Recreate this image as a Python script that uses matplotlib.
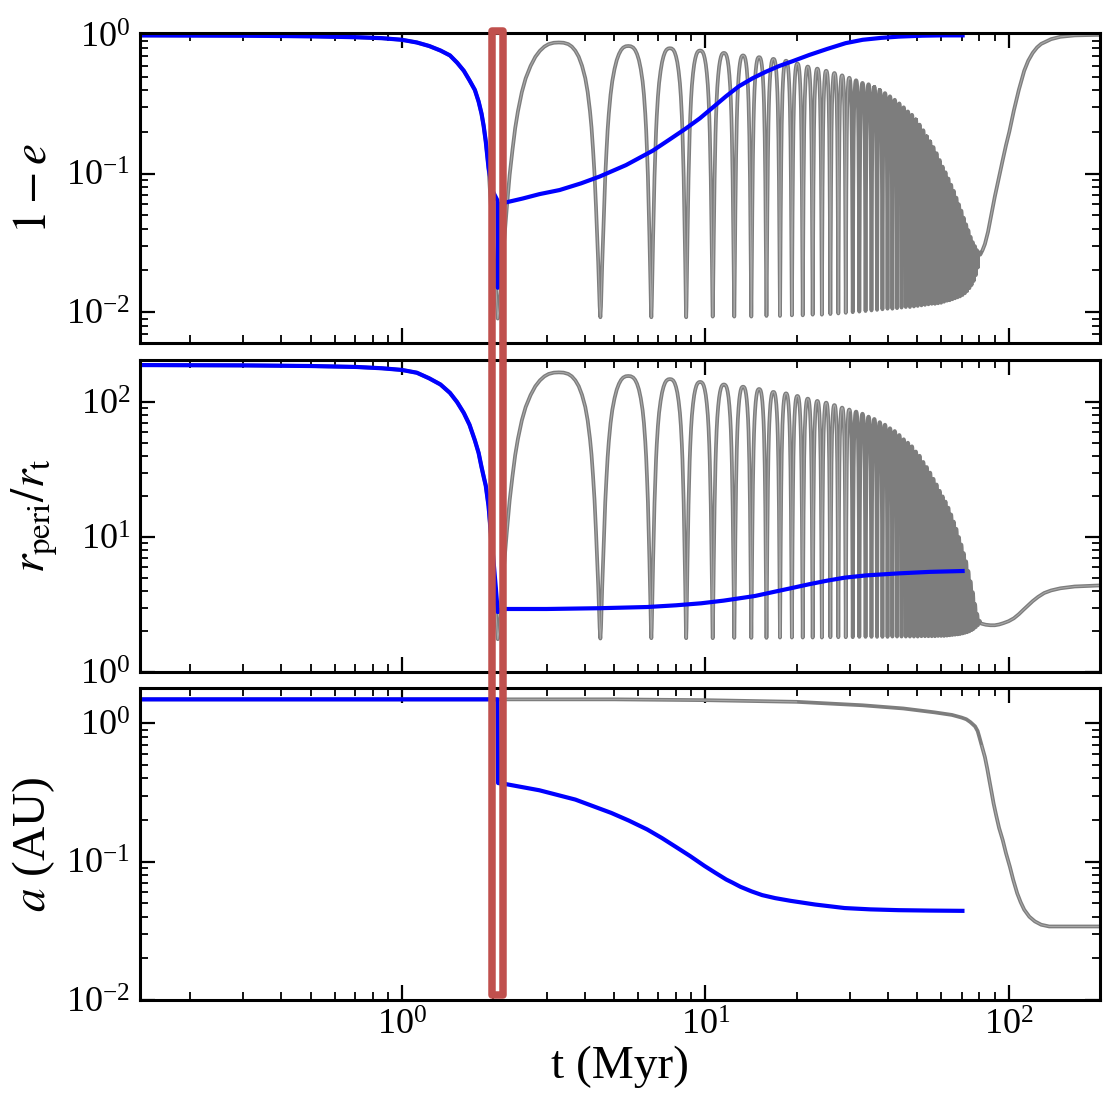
import numpy as np
import matplotlib
matplotlib.use("Agg")
import matplotlib.pyplot as plt
from matplotlib import transforms
from matplotlib.patches import Rectangle
from matplotlib.ticker import LogLocator, NullFormatter

plt.rcParams['font.family'] = ['Liberation Serif', 'DejaVu Serif']
plt.rcParams['mathtext.fontset'] = 'stix'

# ---------------- values ----------------
# blue run (tides on): 1-e, r_peri/r_t and a vs time
t_blue = [0.137, 0.3, 0.5, 0.71, 0.86, 1.0, 1.12, 1.23, 1.34, 1.44, 1.52, 1.60, 1.67,
          1.74, 1.79, 1.83, 1.86, 1.89, 1.93, 1.99, 2.05, 2.065, 2.07, 2.08, 2.21,
          2.5, 2.84, 3.31, 3.9, 4.48, 5.48, 6.71, 7.6, 8.6, 9.6, 10.6, 11.7, 12.9,
          14.3, 15.8, 17.5, 19.4, 22, 25.2, 29, 33, 38, 43.5, 52, 60, 70.5]
ecc_blue = [0.99, 0.985, 0.975, 0.96, 0.945, 0.92, 0.88, 0.83, 0.77, 0.71, 0.63, 0.55, 0.47,
            0.40, 0.33, 0.27, 0.22, 0.17, 0.11, 0.075, 0.066, 0.064, 0.015, 0.06, 0.062,
            0.066, 0.071, 0.076, 0.085, 0.095, 0.115, 0.146, 0.175, 0.21, 0.25, 0.30, 0.36, 0.425,
            0.485, 0.54, 0.595, 0.645, 0.715, 0.79, 0.87, 0.92, 0.95, 0.97, 0.985, 0.99, 0.99]

t_rp_blue = [0.137, 0.3, 0.5, 0.71, 0.86, 1.0, 1.12, 1.23, 1.34, 1.44, 1.52, 1.60, 1.67,
             1.74, 1.79, 1.83, 1.86, 1.89, 1.93, 1.99, 2.04, 2.07, 2.08, 2.21, 3.0,
             4.5, 6.43, 8.0, 9.7, 11.5, 13.0, 14.6, 16.8, 19.1, 22.0, 25.2, 28.8, 34.0,
             43.4, 55.0, 70.5]
rp_blue = [188, 187, 185, 182, 178, 173, 165, 150, 135, 117, 100, 83, 68,
           52, 42, 33, 28, 24, 17, 8, 4.2, 2.78, 2.85, 2.93, 2.93,
           2.97, 3.03, 3.12, 3.23, 3.38, 3.52, 3.66, 3.92, 4.17, 4.47, 4.75, 5.0, 5.2,
           5.38, 5.52, 5.6]

t_a_blue = [0.137, 2.065, 2.075, 2.21, 2.84, 3.73, 4.9, 5.6, 6.43, 7.2, 7.99, 8.9, 9.95,
            10.8, 11.72, 12.3, 13.06, 14.2, 15.4, 17.0, 19.1, 23.0, 28.8, 35.0, 43.4, 55.0, 70.4]
a_blue = [1.49, 1.49, 0.37, 0.363, 0.328, 0.281, 0.225, 0.198, 0.171, 0.148, 0.128, 0.110, 0.093,
          0.083, 0.0743, 0.0705, 0.0658, 0.061, 0.0573, 0.0545, 0.0521, 0.049, 0.0462, 0.0452,
          0.0446, 0.0443, 0.0441]

# gray run (no tides): times of the 1-e minima of the Kozai cycles
kozai_tmin = [2.07, 4.51, 6.64, 8.65, 10.58, 12.46, 14.18, 15.91, 17.63, 19.29,
              20.95, 22.59, 24.22, 25.84, 27.45, 29.04, 30.62, 32.19, 33.75, 35.30,
              36.83, 38.36, 39.87, 41.37, 42.86, 44.34, 45.81, 47.26, 48.71, 50.14,
              51.57, 52.98, 54.38, 55.77, 57.16, 58.53, 59.89, 61.24, 62.58, 63.91,
              65.23, 66.54, 67.84, 69.13, 70.42, 71.69, 72.95, 74.21, 75.45, 76.69,
              77.91, 79.13, 80.60]
# 1-e at each minimum and at the top of each cycle
ecc_floor = [0.0090, 0.0092, 0.0092, 0.0092, 0.0093, 0.0093, 0.0093, 0.0094, 0.0094, 0.0095,
             0.0095, 0.0096, 0.0096, 0.0097, 0.0098, 0.0099, 0.0100, 0.0101, 0.0102, 0.0103,
             0.0104, 0.0105, 0.0106, 0.0106, 0.0107, 0.0108, 0.0109, 0.0109, 0.0110, 0.0111,
             0.0112, 0.0113, 0.0114, 0.0115, 0.0115, 0.0116, 0.0117, 0.0119, 0.0121, 0.0122,
             0.0124, 0.0126, 0.0128, 0.0130, 0.0133, 0.0137, 0.0142, 0.0149, 0.0157, 0.0168,
             0.0185, 0.0210, 0.0260]
ecc_peak = [0.88, 0.83, 0.80, 0.77, 0.74, 0.71, 0.69, 0.67, 0.65,
            0.62, 0.59, 0.57, 0.55, 0.53, 0.51, 0.49, 0.47, 0.45, 0.44,
            0.42, 0.40, 0.38, 0.36, 0.34, 0.32, 0.30, 0.28, 0.265, 0.245,
            0.225, 0.205, 0.185, 0.17, 0.155, 0.14, 0.125, 0.112, 0.102, 0.092,
            0.083, 0.075, 0.067, 0.060, 0.054, 0.048, 0.043, 0.039, 0.035, 0.032,
            0.030, 0.028, 0.027]
# r_peri/r_t at each minimum and at the top of each cycle
rp_floor = [1.75, 1.77, 1.78, 1.78, 1.78, 1.79, 1.79, 1.79, 1.80, 1.80,
            1.80, 1.80, 1.80, 1.81, 1.81, 1.81, 1.81, 1.82, 1.82, 1.82,
            1.82, 1.82, 1.82, 1.83, 1.83, 1.83, 1.83, 1.83, 1.83, 1.83,
            1.84, 1.84, 1.84, 1.84, 1.84, 1.85, 1.85, 1.85, 1.86, 1.87,
            1.88, 1.89, 1.90, 1.91, 1.93, 1.95, 1.97, 2.00, 2.04, 2.09,
            2.15, 2.22, 2.30]
rp_peak = [166, 156, 148, 141, 135, 130, 125, 119, 116,
           111, 106, 102, 99, 95, 91, 88, 85, 82, 78,
           75, 71, 68, 64, 61, 57, 53, 50, 47, 43,
           40, 36, 33, 30, 27, 24.5, 22, 20, 18.3, 16.5,
           14.7, 13.0, 11.5, 10.0, 8.8, 7.6, 6.6, 5.6, 4.7, 3.9,
           3.2, 2.7, 2.4]

# gray run after the cycles die out
t_ecc_tail = [82.0, 83.5, 85.5, 87.9, 90.0, 92.5, 95.5, 98.0, 100.5, 104.0, 108.0,
              112.5, 116.0, 120.0, 124.0, 128.0, 138.0, 148.0, 165.0, 200.0]
ecc_tail = [0.028, 0.031, 0.038, 0.052, 0.068, 0.09, 0.124, 0.16, 0.20, 0.284, 0.40,
            0.55, 0.65, 0.74, 0.81, 0.86, 0.93, 0.967, 0.99, 1.0]
t_rp_tail = [81.5, 84.0, 87.0, 90.0, 93.0, 96.0, 100.0, 104.0, 108.0, 112.0, 116.0,
             120.0, 125.0, 131.0, 138.0, 148.0, 165.0, 200.0]
rp_tail = [2.28, 2.24, 2.22, 2.22, 2.25, 2.30, 2.38, 2.50, 2.68, 2.90, 3.12,
           3.35, 3.60, 3.85, 4.02, 4.17, 4.30, 4.38]

t_a_gray = [0.137, 2.07, 5.0, 10.0, 20.0, 33.0, 45.0, 57.0, 65.0, 70.0, 72.5, 74.8, 77.5,
            79.0, 80.0, 81.5, 83.5, 85.0, 86.5, 88.0, 89.2, 91.0, 93.0, 95.6, 98.0, 100.9,
            103.5, 106.7, 109.5, 112.5, 117.0, 122.0, 128.0, 136.0, 160.0, 200.0]
a_gray = [1.49, 1.49, 1.49, 1.47, 1.43, 1.35, 1.28, 1.2, 1.15, 1.1, 1.07, 1.02, 0.95,
          0.88, 0.80, 0.69, 0.57, 0.47, 0.38, 0.31, 0.263, 0.215, 0.175, 0.143, 0.115, 0.092,
          0.074, 0.059, 0.051, 0.045, 0.040, 0.037, 0.035, 0.034, 0.034, 0.034]

# shape of one half cycle, read from the first cycle (fraction of the cycle, log-height fraction)
arch_u = [0.0, 0.01, 0.02, 0.03, 0.045, 0.06, 0.08, 0.10, 0.12, 0.14, 0.17, 0.20, 0.24,
          0.28, 0.32, 0.36, 0.40, 0.45, 0.5]
arch_s = [0.0, 0.04, 0.12, 0.20, 0.30, 0.40, 0.52, 0.61, 0.69, 0.75, 0.82, 0.87, 0.915,
          0.948, 0.970, 0.985, 0.994, 0.999, 1.0]

box_t = [1.98, 2.16]
dense_span = (30.0, 81.0)   # where the cycles merge into a solid band


def kozai_track(tmin, floor, peak):
    u = np.array(arch_u)
    s = np.array(arch_s)
    ts, ys = [], []
    for i in range(len(peak)):
        t0, t1 = tmin[i], tmin[i + 1]
        lo0, lo1, hi = np.log10(floor[i]), np.log10(floor[i + 1]), np.log10(peak[i])
        ts.append(t0 + u * (t1 - t0))
        ys.append(lo0 + s * (hi - lo0))
        ts.append(t1 - u[::-1] * (t1 - t0))
        ys.append(lo1 + s[::-1] * (hi - lo1))
    return np.concatenate(ts), 10 ** np.concatenate(ys)


def gray_line(ax, t, y):
    t = np.asarray(t, float)
    y = np.asarray(y, float)
    ax.plot(t, y, color=gray, lw=lw_g)
    inner = np.where((t > dense_span[0]) & (t < dense_span[1]), np.nan, y)
    ax.plot(t, inner, color=gray_in, lw=lw_gi)


gray = '#7d7d7d'
gray_in = '#a8a8a8'
blue = '#0000ff'
lw_g, lw_gi, lw_b = 2.7, 0.8, 3.0

fig = plt.figure(figsize=(11.04, 11.01), dpi=100)
left, width = 140 / 1104, 960 / 1104
ax1 = fig.add_axes([left, 1 - 343 / 1101, width, 310 / 1101])
ax2 = fig.add_axes([left, 1 - 672 / 1101, width, 312 / 1101])
ax3 = fig.add_axes([left, 1 - 1000 / 1101, width, 312 / 1101])

# panel 1: 1-e
tk, ek = kozai_track(kozai_tmin, ecc_floor, ecc_peak)
n_pre = t_blue.index(1.93) + 1
gray_line(ax1, np.concatenate([t_blue[:n_pre], tk, t_ecc_tail]),
          np.concatenate([ecc_blue[:n_pre], ek, ecc_tail]))
ax1.plot(t_blue, ecc_blue, color=blue, lw=lw_b)
ax1.set_ylim(0.006, 1.03)
ax1.set_ylabel(r'$1-e$', fontsize=34)
ax1.yaxis.set_label_coords(-0.088, 0.5)

# panel 2: r_peri / r_t
tk2, rk = kozai_track(kozai_tmin, rp_floor, rp_peak)
n_pre2 = t_rp_blue.index(1.93) + 1
gray_line(ax2, np.concatenate([t_rp_blue[:n_pre2], tk2, t_rp_tail]),
          np.concatenate([rp_blue[:n_pre2], rk, rp_tail]))
ax2.plot(t_rp_blue, rp_blue, color=blue, lw=lw_b)
ax2.set_ylim(1.0, 205)
ax2.set_ylabel(r'$r_{\rm peri}/r_{\rm t}$', fontsize=34)
ax2.yaxis.set_label_coords(-0.083, 0.5)

# panel 3: a
gray_line(ax3, t_a_gray, a_gray)
ax3.plot(t_a_blue, a_blue, color=blue, lw=lw_b)
ax3.set_ylim(0.01, 1.8)
ax3.set_ylabel(r'$a$ (AU)', fontsize=34)
ax3.yaxis.set_label_coords(-0.086, 0.5)
ax3.set_xlabel('t (Myr)', fontsize=34, labelpad=2)

for ax in (ax1, ax2, ax3):
    ax.set_xscale('log')
    ax.set_yscale('log')
    ax.set_xlim(0.137, 200)
    ax.xaxis.set_minor_locator(LogLocator(base=10, subs=np.arange(2, 10)))
    ax.xaxis.set_minor_formatter(NullFormatter())
    ax.yaxis.set_minor_locator(LogLocator(base=10, subs=np.arange(2, 10)))
    ax.yaxis.set_minor_formatter(NullFormatter())
    ax.tick_params(which='both', direction='in', top=True, right=True)
    ax.tick_params(which='major', length=11, width=1.6, labelsize=26, pad=7)
    ax.tick_params(which='minor', length=6, width=1.3)
    for sp in ax.spines.values():
        sp.set_linewidth(2.2)
for ax in (ax1, ax2):
    ax.tick_params(labelbottom=False)

# red box marking the capture epoch, spanning all three panels
trans = transforms.blended_transform_factory(ax3.transData, fig.transFigure)
y_bot, y_top = 1 - 995 / 1101, 1 - 31 / 1101
box = Rectangle((box_t[0], y_bot), box_t[1] - box_t[0], y_top - y_bot, transform=trans,
                fill=False, edgecolor='#c0504d', lw=5.4, joinstyle='round',
                clip_on=False, zorder=10)
ax3.add_patch(box)

fig.savefig('out.png', dpi=100)
